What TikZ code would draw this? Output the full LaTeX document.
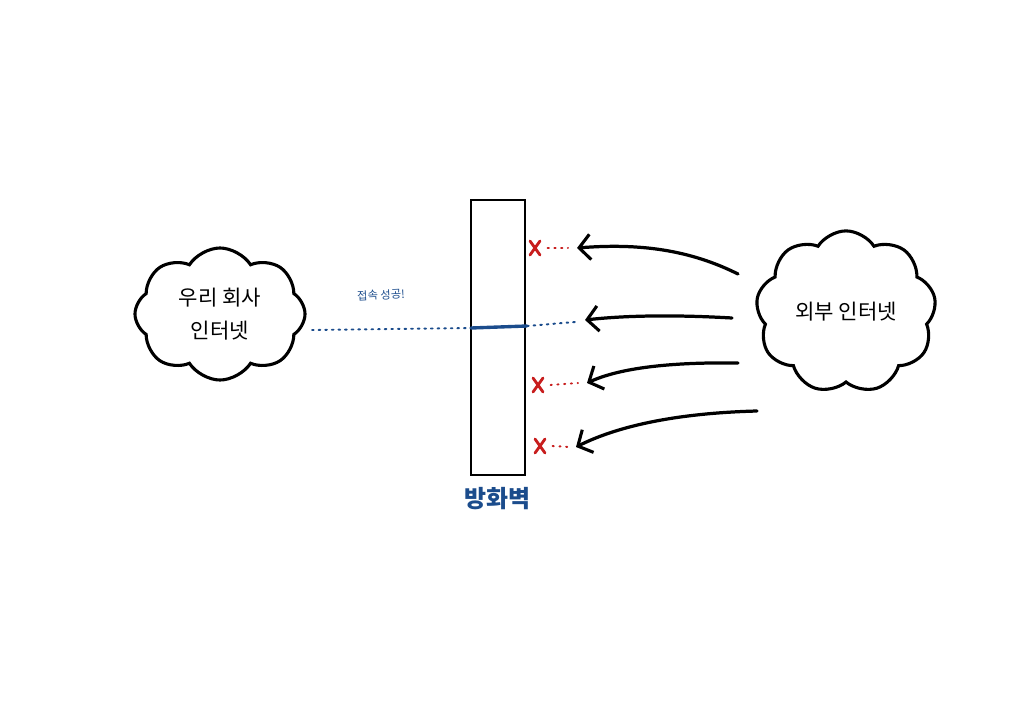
\documentclass[tikz,border=0pt]{standalone}
\usepackage{fontspec}
\newfontfamily\kr{Noto Sans CJK KR}
\usetikzlibrary{arrows.meta,shapes.symbols}
\definecolor{fwblue}{HTML}{1B4C8C}
\definecolor{xred}{HTML}{C81E1E}
\tikzset{
  cloudbox/.style={cloud, draw=black, line width=2.2pt, cloud puffs=#1, cloud puff arc=115, font=\kr\fontsize{15}{24}\selectfont, align=center, inner sep=0pt},
  attack/.style={line width=2.3pt, line cap=round, -{Straight Barb[length=8pt,width=18pt,line width=2.2pt]}},
  reddots/.style={xred, line width=1.4pt, dash pattern=on 0.8pt off 4pt, line cap=round},
  bluedots/.style={fwblue, line width=1.4pt, dash pattern=on 1.2pt off 3.5pt, line cap=round},
  xmark/.style={xred, line width=2pt, line cap=round},
  wall/.style={draw=black, line width=1.6pt}
}
\begin{document}
\begin{tikzpicture}[x=0.025cm,y=-0.025cm]
\useasboundingbox[fill=white] (0,0) rectangle (1024,724);
% firewall
\draw[wall] (471,200) rectangle (525,475);
\node[font=\kr\bfseries\fontsize{17}{20}\selectfont, text=fwblue] (fwlabel) at (497,499) {방화벽};
% clouds
\node[cloudbox=8, minimum width=4.25cm, minimum height=3.2cm] (inner) at (220,314) {우리 회사\\인터넷};
\node[cloudbox=9, minimum width=4.5cm, minimum height=2.75cm] (outer) at (846,312) {외부 인터넷};
% successful connection
\coordinate (bs) at (312,330);
\coordinate (bwl) at (471,328);
\coordinate (bwr) at (527,326);
\coordinate (be) at (575,322);
\draw[bluedots] (bs) -- (bwl);
\draw[fwblue, line width=2.4pt, line cap=round] (bwl) -- (bwr);
\draw[bluedots] (bwr) -- (be);
\node[font=\kr\fontsize{8}{9}\selectfont, text=fwblue, rotate=3] (ok) at (381,295) {접속 성공!};
% attack arrows
\coordinate (t1) at (738,274); \coordinate (h1) at (577,248);
\coordinate (t2) at (732,318); \coordinate (h2) at (585,320);
\coordinate (t3) at (738,363); \coordinate (h3) at (587,383);
\coordinate (t4) at (757,411); \coordinate (h4) at (576,447);
\draw[attack] (t1) .. controls (690,250) and (640,243) .. (h1);
\draw[attack] (t2) .. controls (680,315) and (630,315) .. (h2);
\draw[attack] (t3) .. controls (670,362) and (620,368) .. (h3);
\draw[attack] (t4) .. controls (680,413) and (620,425) .. (h4);
% blocked marks
\coordinate (x1) at (535,248); \coordinate (x2) at (538,385); \coordinate (x3) at (540,446);
\foreach \p in {x1,x2,x3}{
  \draw[xmark] ([shift={(-5,-7)}]\p) -- ([shift={(5,7)}]\p);
  \draw[xmark] ([shift={(5,-7)}]\p) -- ([shift={(-5,7)}]\p);
}
\coordinate (d1) at (568,248); \coordinate (d2) at (578,383); \coordinate (d3) at (570,447);
\draw[reddots] ([xshift=9]x1) -- (d1);
\draw[reddots] ([xshift=9]x2) -- (d2);
\draw[reddots] ([xshift=9]x3) -- (d3);
\end{tikzpicture}
\end{document}
